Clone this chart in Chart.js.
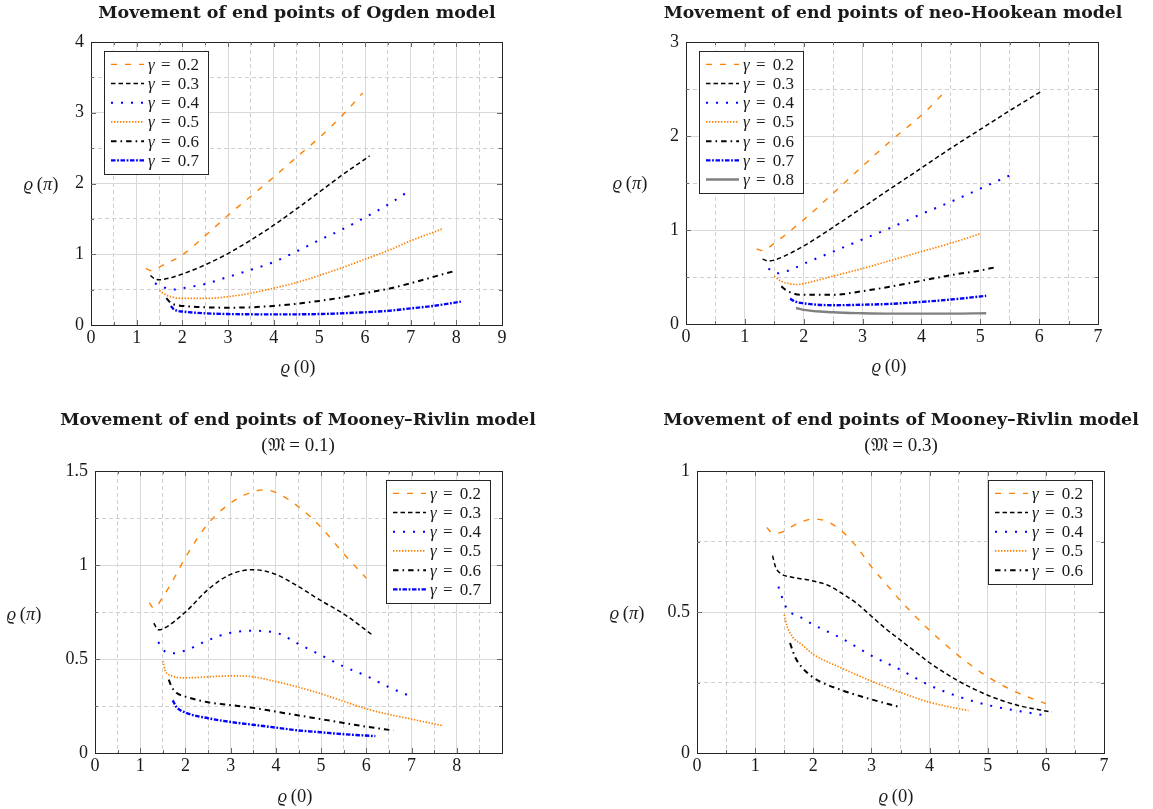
<!DOCTYPE html>
<html lang="en"><head><meta charset="utf-8"><title>Movement of end points</title>
<script src="https://cdn.jsdelivr.net/npm/chart.js@4.4.1/dist/chart.umd.min.js"></script>
<style>
html,body{margin:0;padding:0;background:#fff;}
body{width:1153px;height:809px;position:relative;overflow:hidden;}
canvas{position:absolute;}
.t{position:absolute;transform:translate(-50%,-50%);white-space:nowrap;color:#1a1a1a;line-height:1;}
.title{font-family:"DejaVu Serif",serif;font-weight:bold;font-size:16px;}
.sub,.ax{font-family:"Liberation Serif","DejaVu Serif","DejaVu Sans",serif;font-size:18.5px;}
.sub{font-size:19px;}
.ax i,.sub i{font-style:italic;}
</style></head><body>
<canvas id="c1" width="576" height="400" style="left:0;top:0"></canvas>
<canvas id="c2" width="577" height="400" style="left:576px;top:0"></canvas>
<canvas id="c3" width="576" height="409" style="left:0;top:400px"></canvas>
<canvas id="c4" width="577" height="409" style="left:576px;top:400px"></canvas>

<div class="t title" data-w="398" style="left:297px;top:13px">Movement of end points of Ogden model</div>
<div class="t title" data-w="459" style="left:893px;top:13px">Movement of end points of neo-Hookean model</div>
<div class="t title" data-w="476" style="left:298px;top:420px">Movement of end points of Mooney–Rivlin model</div>
<div class="t sub" style="left:298px;top:444px">(𝔐 = 0.1)</div>
<div class="t title" data-w="476" style="left:901px;top:420px">Movement of end points of Mooney–Rivlin model</div>
<div class="t sub" style="left:901px;top:444px">(𝔐 = 0.3)</div>

<div class="t ax" style="left:298px;top:367px"><i>ϱ</i>&#8201;(0)</div>
<div class="t ax" style="left:41px;top:184px"><i>ϱ</i>&#8201;(<i>π</i>)</div>
<div class="t ax" style="left:889px;top:366px"><i>ϱ</i>&#8201;(0)</div>
<div class="t ax" style="left:630px;top:183px"><i>ϱ</i>&#8201;(<i>π</i>)</div>
<div class="t ax" style="left:295px;top:796px"><i>ϱ</i>&#8201;(0)</div>
<div class="t ax" style="left:24px;top:614px"><i>ϱ</i>&#8201;(<i>π</i>)</div>
<div class="t ax" style="left:896px;top:796px"><i>ϱ</i>&#8201;(0)</div>
<div class="t ax" style="left:627px;top:613px"><i>ϱ</i>&#8201;(<i>π</i>)</div>

<script>
// ---------------- data ----------------
const gammas6 = ['0.2','0.3','0.4','0.5','0.6','0.7'];
const gammas7 = ['0.2','0.3','0.4','0.5','0.6','0.7','0.8'];
const gammas5 = ['0.2','0.3','0.4','0.5','0.6'];

// Ogden model
const og02 = [[1.2,0.80],[1.3,0.77],[1.4,0.78],[1.5,0.82],[2,0.99],[2.5,1.26],[3,1.55],[3.5,1.82],[4,2.09],[4.5,2.37],[5,2.65],[5.5,2.96],[5.95,3.28]];
const og03 = [[1.3,0.70],[1.4,0.65],[1.5,0.64],[1.7,0.66],[2,0.72],[2.5,0.85],[3,1.01],[3.5,1.20],[4,1.41],[4.5,1.64],[5,1.88],[5.5,2.12],[6.1,2.39]];
const og04 = [[1.4,0.59],[1.6,0.53],[1.8,0.50],[2,0.52],[2.5,0.58],[3,0.68],[3.5,0.78],[4,0.89],[4.5,1.04],[5,1.20],[5.5,1.35],[6,1.52],[6.5,1.70],[7,1.91]];
const og05 = [[1.5,0.49],[1.6,0.44],[1.7,0.41],[2,0.375],[2.5,0.375],[3,0.40],[3.5,0.45],[4,0.52],[4.5,0.60],[5,0.70],[5.5,0.81],[6,0.93],[6.5,1.05],[7,1.19],[7.7,1.36]];
const og06 = [[1.65,0.38],[1.75,0.31],[1.9,0.28],[2.2,0.26],[2.5,0.25],[3,0.245],[3.5,0.25],[4,0.27],[4.5,0.30],[5,0.34],[5.5,0.39],[6,0.45],[6.5,0.51],[7,0.59],[7.5,0.68],[8,0.77]];
const og07 = [[1.75,0.27],[1.8,0.23],[1.9,0.20],[2,0.19],[2.5,0.165],[3,0.155],[4,0.15],[5,0.155],[6,0.18],[6.5,0.20],[7,0.235],[7.5,0.27],[8.1,0.33]];

// neo-Hookean model
const nh02 = [[1.2,0.80],[1.3,0.78],[1.5,0.86],[2,1.11],[2.5,1.39],[3,1.68],[3.5,1.96],[4,2.22],[4.4,2.47]];
const nh03 = [[1.3,0.69],[1.4,0.67],[1.5,0.68],[2,0.83],[2.5,1.03],[3,1.24],[3.5,1.45],[4,1.66],[4.5,1.87],[5,2.07],[5.5,2.27],[6.05,2.48]];
const nh04 = [[1.4,0.59],[1.55,0.54],[1.75,0.57],[2,0.64],[2.5,0.77],[3,0.90],[3.5,1.03],[4,1.17],[4.5,1.30],[5,1.44],[5.5,1.58]];
const nh05 = [[1.5,0.51],[1.6,0.46],[1.75,0.43],[1.9,0.42],[2,0.43],[2.5,0.51],[3,0.59],[3.5,0.68],[4,0.77],[4.5,0.86],[5,0.96]];
const nh06 = [[1.62,0.40],[1.7,0.36],[1.85,0.32],[2,0.31],[2.5,0.31],[3,0.35],[3.5,0.40],[4,0.46],[4.5,0.52],[5,0.57],[5.23,0.60]];
const nh07 = [[1.77,0.27],[1.85,0.24],[2,0.22],[2.5,0.20],[3,0.205],[3.5,0.215],[4,0.235],[4.5,0.26],[5.1,0.30]];
const nh08 = [[1.87,0.17],[2,0.15],[2.5,0.125],[3,0.115],[3.5,0.11],[4,0.11],[4.5,0.11],[5.1,0.115]];

// Mooney–Rivlin, M = 0.1
const mr1g02 = [[1.2,0.80],[1.3,0.77],[1.5,0.83],[1.75,0.93],[2,1.04],[2.5,1.22],[3,1.33],[3.5,1.39],[3.75,1.40],[4,1.385],[4.5,1.31],[5,1.20],[5.5,1.06],[6,0.93]];
const mr1g03 = [[1.3,0.69],[1.4,0.655],[1.5,0.66],[2,0.75],[2.5,0.87],[3,0.95],[3.5,0.975],[4,0.95],[4.5,0.885],[5,0.81],[5.5,0.74],[6.15,0.625]];
const mr1g04 = [[1.4,0.59],[1.5,0.55],[1.7,0.53],[2,0.545],[2.5,0.60],[3,0.64],[3.5,0.65],[4,0.64],[4.5,0.58],[5,0.52],[5.5,0.46],[6,0.41],[6.5,0.35],[7,0.30]];
const mr1g05 = [[1.5,0.49],[1.55,0.44],[1.7,0.41],[2,0.40],[2.5,0.405],[3,0.41],[3.5,0.405],[4,0.38],[4.5,0.35],[5,0.315],[5.5,0.275],[6,0.235],[6.5,0.205],[7,0.18],[7.7,0.145]];
const mr1g06 = [[1.63,0.39],[1.7,0.35],[1.8,0.32],[2,0.30],[2.5,0.27],[3,0.255],[3.5,0.24],[4,0.22],[4.5,0.20],[5,0.18],[5.5,0.16],[6,0.14],[6.6,0.12]];
const mr1g07 = [[1.72,0.28],[1.8,0.245],[2,0.215],[2.5,0.185],[3,0.165],[3.5,0.15],[4,0.135],[4.5,0.12],[5,0.11],[5.5,0.10],[6.2,0.09]];

// Mooney–Rivlin, M = 0.3
const mr3g02 = [[1.2,0.80],[1.3,0.78],[1.4,0.78],[1.6,0.80],[1.8,0.82],[2,0.83],[2.25,0.82],[2.5,0.785],[2.75,0.73],[3,0.66],[3.25,0.60],[3.5,0.54],[4,0.435],[4.5,0.345],[5,0.27],[5.5,0.215],[6,0.175]];
const mr3g03 = [[1.3,0.70],[1.35,0.66],[1.45,0.635],[1.6,0.625],[2,0.61],[2.25,0.595],[2.5,0.565],[2.75,0.53],[3,0.485],[3.25,0.44],[3.5,0.40],[3.75,0.36],[4,0.32],[4.5,0.255],[5,0.205],[5.5,0.17],[6.1,0.145]];
const mr3g04 = [[1.4,0.59],[1.45,0.56],[1.5,0.53],[1.6,0.50],[1.75,0.485],[2,0.455],[2.5,0.405],[3,0.345],[3.5,0.295],[4,0.24],[4.5,0.20],[5,0.17],[5.5,0.15],[6,0.133]];
const mr3g05 = [[1.5,0.49],[1.55,0.45],[1.65,0.41],[1.8,0.385],[2,0.35],[2.5,0.30],[3,0.255],[3.5,0.215],[4,0.18],[4.67,0.15]];
const mr3g06 = [[1.6,0.39],[1.65,0.36],[1.7,0.335],[1.8,0.305],[1.95,0.275],[2.1,0.255],[2.5,0.222],[3,0.19],[3.45,0.165]];

// tick values
const ticks0to9 = [0,1,2,3,4,5,6,7,8,9];
const ticks0to8 = [0,1,2,3,4,5,6,7,8];
const ticks0to7 = [0,1,2,3,4,5,6,7];
const minor0to9 = [0.5,1.5,2.5,3.5,4.5,5.5,6.5,7.5,8.5];
const minor0to7 = [0.5,1.5,2.5,3.5,4.5,5.5,6.5];
const yTicksOgden = [0,1,2,3,4];
const yMinorOgden = [0.5,1.5,2.5,3.5];
const yTicksNeo = [0,1,2,3];
const yMinorNeo = [0.5,1.5,2.5];
const yTicksMR1 = [0,0.5,1,1.5];
const yMinorMR1 = [0.25,0.75,1.25];
const yTicksMR3 = [0,0.5,1];
const yMinorMR3 = [0.25,0.75];

// ---------------- styles ----------------
const ORANGE = 'rgb(255,128,0)', BLUE = 'rgb(0,0,255)', BLACK = '#000', GRAY = 'rgb(128,128,128)';
const STYLE = {
  '0.2': {color: ORANGE, width: 1.4, dash: [6, 8]},
  '0.3': {color: BLACK, width: 1.5, dash: [4.5, 3]},
  '0.4': {color: BLUE, width: 2, dash: [2, 8]},
  '0.5': {color: ORANGE, width: 1.7, dash: [1.4, 1.6]},
  '0.6': {color: BLACK, width: 2, dash: [5.5, 4, 1.6, 4]},
  '0.7': {color: BLUE, width: 2.4, dash: [4.5, 1.6, 1.8, 1.6]},
  '0.8': {color: GRAY, width: 2.4, dash: []}
};
const MAJOR = '#d9d9d9', MINOR = '#cfcfcf', AXIS = '#262626', TICKC = '#6a6a6a';
const SERIF = "'Liberation Serif', 'DejaVu Serif', serif";
const TICK_FONT = {family: SERIF, size: 18};

const fmt = v => String(Math.round(v * 100) / 100);

// legend drawn inside the plot area
const boxLegend = {
  id: 'boxLegend',
  afterDatasetsDraw(chart, args, o) {
    const {ctx, chartArea: a} = chart;
    const ds = chart.data.datasets;
    const rowH = 19.2, w = 104, h = ds.length * rowH + 7.5;
    const left = o.side === 'left' ? a.left + 13 : a.right - 12 - w;
    const top = a.top + 9;
    ctx.save();
    ctx.fillStyle = '#fff';
    ctx.fillRect(left, top, w, h);
    ctx.strokeStyle = AXIS; ctx.lineWidth = 1;
    ctx.strokeRect(Math.round(left) + 0.5, Math.round(top) + 0.5, Math.round(w), Math.round(h));
    ds.forEach((d, i) => {
      const cy = top + 3.75 + rowH * (i + 0.5);
      ctx.save();
      ctx.strokeStyle = d.borderColor; ctx.lineWidth = d.borderWidth;
      ctx.setLineDash(d.borderDash || []); ctx.lineCap = 'butt';
      ctx.beginPath(); ctx.moveTo(left + 7, cy); ctx.lineTo(left + 40, cy); ctx.stroke();
      ctx.restore();
      const parts = d.label.split('=');
      const base = cy + 5.5;
      ctx.fillStyle = '#1a1a1a';
      ctx.textBaseline = 'alphabetic';
      ctx.textAlign = 'left';
      ctx.font = 'italic 17px ' + SERIF;
      ctx.fillText(parts[0].trim(), left + 44, base);
      ctx.font = '17px ' + SERIF;
      ctx.fillText('=', left + 57, base);
      ctx.textAlign = 'right';
      ctx.fillText(parts[1].trim(), left + 95, base);
    });
    ctx.restore();
  }
};

// short inward tick marks on all four sides (pgfplots style)
const innerTicks = {
  id: 'innerTicks',
  afterDraw(chart) {
    const {ctx, chartArea: a, scales} = chart;
    ctx.save();
    ctx.strokeStyle = TICKC; ctx.lineWidth = 1;
    const seg = (x1, y1, x2, y2) => { ctx.beginPath(); ctx.moveTo(x1, y1); ctx.lineTo(x2, y2); ctx.stroke(); };
    [['x', 5], ['xm', 3]].forEach(([id, len]) => {
      const s = scales[id];
      s.ticks.forEach(t => {
        const px = Math.round(s.getPixelForValue(t.value)) + 0.5;
        if (px < a.left + 1 || px > a.right - 1) return;
        seg(px, a.bottom, px, a.bottom - len); seg(px, a.top, px, a.top + len);
      });
    });
    [['y', 5], ['ym', 3]].forEach(([id, len]) => {
      const s = scales[id];
      s.ticks.forEach(t => {
        const py = Math.round(s.getPixelForValue(t.value)) + 0.5;
        if (py < a.top + 1 || py > a.bottom - 1) return;
        seg(a.left, py, a.left + len, py); seg(a.right, py, a.right - len, py);
      });
    });
    ctx.restore();
  }
};

function fixSize(prop, v) {
  return s => { s[prop] = v; s.paddingLeft = 0; s.paddingRight = 0; s.paddingTop = 0; s.paddingBottom = 0; };
}

function makeChart(id, cfg) {
  const cv = document.getElementById(id);
  const cx = parseFloat(cv.style.left) || 0, cy = parseFloat(cv.style.top) || 0;
  const AXW = 30, AXH = 30;
  const box = cfg.box; // page coords of plot area
  const padding = {
    left: box.left - cx - AXW,
    top: box.top - cy,
    right: cv.width - (box.right - cx),
    bottom: cv.height - AXH - (box.bottom - cy)
  };
  const datasets = cfg.series.map((pts, i) => {
    const g = cfg.gammas[i], s = STYLE[g];
    return {
      label: 'γ = ' + g, data: pts,
      borderColor: s.color, borderWidth: s.width, borderDash: s.dash, borderCapStyle: 'butt',
      pointRadius: 0, fill: false, cubicInterpolationMode: 'monotone',
      xAxisID: 'x', yAxisID: 'y'
    };
  });
  const setTicks = arr => s => { s.ticks = arr.map(v => ({value: v})); };
  return new Chart(cv, {
    type: 'line',
    data: {datasets},
    options: {
      responsive: false, animation: false, events: [],
      layout: {padding},
      plugins: {legend: {display: false}, tooltip: {enabled: false}, title: {display: false},
                boxLegend: {side: cfg.legendSide}},
      scales: {
        x: {type: 'linear', position: 'bottom', min: 0, max: cfg.xMax,
            afterBuildTicks: setTicks(cfg.xTicks), afterFit: fixSize('height', AXH),
            ticks: {font: TICK_FONT, color: '#1a1a1a', padding: 2, maxRotation: 0, autoSkip: false, callback: fmt},
            grid: {color: MAJOR, lineWidth: 1, drawTicks: false},
            border: {display: true, color: AXIS, width: 1, z: 1}},
        xm: {type: 'linear', position: 'top', min: 0, max: cfg.xMax,
            afterBuildTicks: setTicks(cfg.xMinor), afterFit: fixSize('height', 0),
            ticks: {display: false},
            grid: {color: MINOR, lineWidth: 1, drawTicks: false},
            border: {display: true, color: AXIS, width: 1, dash: [4, 3], z: 1}},
        y: {type: 'linear', position: 'left', min: 0, max: cfg.yMax,
            afterBuildTicks: setTicks(cfg.yTicks), afterFit: fixSize('width', AXW),
            ticks: {font: TICK_FONT, color: '#1a1a1a', padding: 7, autoSkip: false, callback: fmt},
            grid: {color: MAJOR, lineWidth: 1, drawTicks: false},
            border: {display: true, color: AXIS, width: 1, z: 1}},
        ym: {type: 'linear', position: 'right', min: 0, max: cfg.yMax,
            afterBuildTicks: setTicks(cfg.yMinor), afterFit: fixSize('width', 0),
            ticks: {display: false},
            grid: {color: MINOR, lineWidth: 1, drawTicks: false},
            border: {display: true, color: AXIS, width: 1, dash: [4, 3], z: 1}}
      }
    },
    plugins: [boxLegend, innerTicks]
  });
}

makeChart('c1', {box: {left: 91, top: 42, right: 502, bottom: 325}, xMax: 9, yMax: 4,
  xTicks: ticks0to9, xMinor: minor0to9, yTicks: yTicksOgden, yMinor: yMinorOgden,
  gammas: gammas6, series: [og02, og03, og04, og05, og06, og07], legendSide: 'left'});
makeChart('c2', {box: {left: 686, top: 42, right: 1098, bottom: 324}, xMax: 7, yMax: 3,
  xTicks: ticks0to7, xMinor: minor0to7, yTicks: yTicksNeo, yMinor: yMinorNeo,
  gammas: gammas7, series: [nh02, nh03, nh04, nh05, nh06, nh07, nh08], legendSide: 'left'});
makeChart('c3', {box: {left: 95, top: 471, right: 502, bottom: 753}, xMax: 9, yMax: 1.5,
  xTicks: ticks0to8, xMinor: minor0to9, yTicks: yTicksMR1, yMinor: yMinorMR1,
  gammas: gammas6, series: [mr1g02, mr1g03, mr1g04, mr1g05, mr1g06, mr1g07], legendSide: 'right'});
makeChart('c4', {box: {left: 697, top: 471, right: 1104, bottom: 753}, xMax: 7, yMax: 1,
  xTicks: ticks0to7, xMinor: minor0to7, yTicks: yTicksMR3, yMinor: yMinorMR3,
  gammas: gammas5, series: [mr3g02, mr3g03, mr3g04, mr3g05, mr3g06], legendSide: 'right'});

// fit title widths to the reference
document.querySelectorAll('.title[data-w]').forEach(el => {
  const target = parseFloat(el.dataset.w);
  const w = el.getBoundingClientRect().width;
  if (w > 0) el.style.fontSize = (16 * target / w).toFixed(2) + 'px';
});
</script>
</body></html>
